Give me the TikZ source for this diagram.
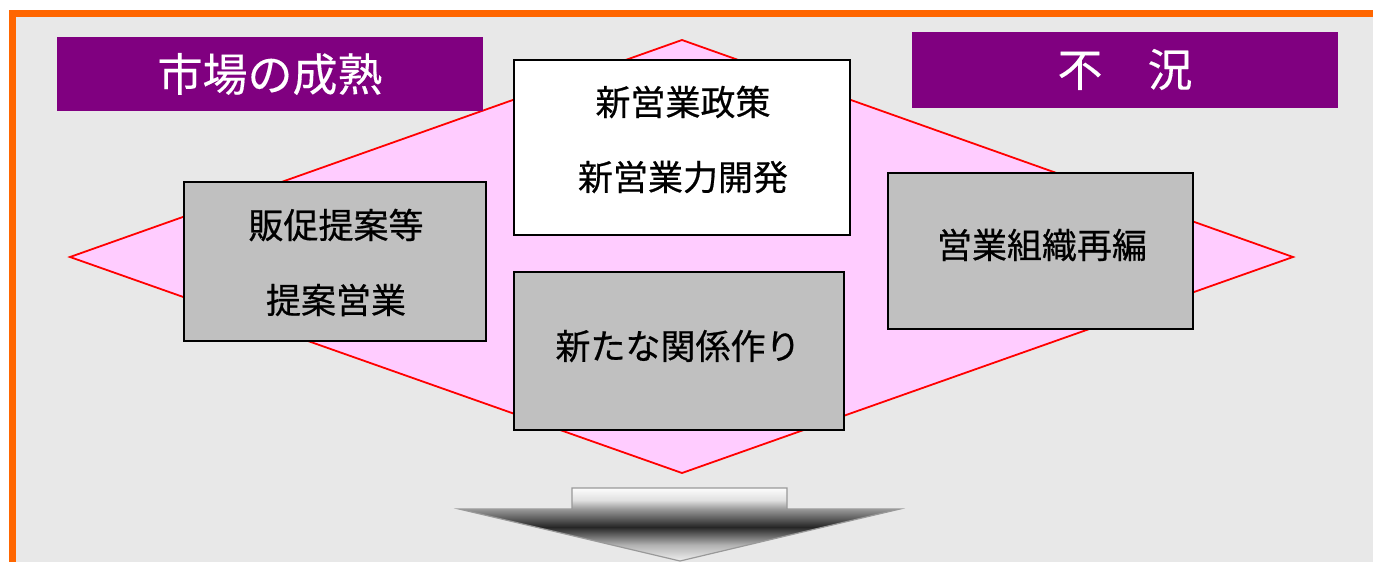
\documentclass[tikz,border=0pt]{standalone}
\usepackage{fontspec}
\newfontfamily\jp[FakeBold=0.6]{Noto Sans CJK JP}
\newfontfamily\jpw[FakeBold=0.3]{Noto Sans CJK JP}
\definecolor{bg}{HTML}{E8E8E8}
\definecolor{frame}{HTML}{FF6600}
\definecolor{plum}{HTML}{800080}
\definecolor{pinkfill}{HTML}{FFCCFF}
\definecolor{boxgray}{HTML}{C0C0C0}
\definecolor{arrowline}{HTML}{999999}
\tikzset{
  titlebox/.style={rectangle, fill=plum, draw=none, inner sep=0pt, text=white, font=\jpw\fontsize{45}{50}\selectfont},
  graybox/.style={rectangle, fill=boxgray, draw=black, line width=1.5pt, inner sep=0pt},
  whitebox/.style={rectangle, fill=white, draw=black, line width=1.5pt, inner sep=0pt},
  lbl/.style={inner sep=0pt, text=black, font=\jp\fontsize{35}{40}\selectfont},
}
\begin{document}
\begin{tikzpicture}[x=1pt,y=-1pt]
\useasboundingbox (0,0) rectangle (1373,562);
% background and frame
\fill[white] (0,0) rectangle (1373,562);
\fill[bg] (16,16.5) rectangle (1373,562);
\fill[frame] (9,10) rectangle (1373,16.5);
\fill[frame] (9,10) rectangle (16,562);
% diamond
\coordinate (dT) at (682,40);
\coordinate (dR) at (1293,257);
\coordinate (dB) at (682,473);
\coordinate (dL) at (70,257);
\filldraw[fill=pinkfill, draw=red, line width=1.8pt, line join=miter] (dT) -- (dR) -- (dB) -- (dL) -- cycle;
% title boxes
\node[titlebox, minimum width=426pt, minimum height=74pt] (market) at (270,74) {市場の成熟};
\node[titlebox, minimum width=426pt, minimum height=76pt] (slump) at (1125,69.5) {不　況};
% boxes
\node[whitebox, minimum width=336pt, minimum height=175pt] (policy) at (682,147.5) {};
\node[graybox, minimum width=302pt, minimum height=159pt] (promo) at (335,261.5) {};
\node[graybox, minimum width=330pt, minimum height=158pt] (relation) at (679,351) {};
\node[graybox, minimum width=305pt, minimum height=156pt] (reorg) at (1040.5,251) {};
% labels
\node[lbl] (p1) at (683,102) {新営業政策};
\node[lbl] (p2) at (683,177) {新営業力開発};
\node[lbl] (s1) at (336,225) {販促提案等};
\node[lbl] (s2) at (336,300) {提案営業};
\node[lbl] (r1) at (678,346) {新たな関係作り};
\node[lbl] (o1) at (1042,245) {営業組織再編};
% arrow
\coordinate (a1) at (572,509);
\coordinate (a2) at (572,488);
\coordinate (a3) at (787,488);
\coordinate (a4) at (787,509);
\coordinate (a5) at (900,509);
\coordinate (a6) at (680,561);
\coordinate (a7) at (459,509);
\begin{scope}
\clip (a1) -- (a2) -- (a3) -- (a4) -- (a5) -- (a6) -- (a7) -- cycle;
\shade[top color=white, bottom color=black!12] (450,487) rectangle (910,500);
\shade[top color=black!12, bottom color=black!40] (450,500) rectangle (910,509.01);
\shade[top color=black!40, bottom color=black!85] (450,509) rectangle (910,527.01);
\shade[top color=black!85, bottom color=black!30] (450,527) rectangle (910,545.01);
\shade[top color=black!30, bottom color=black!3] (450,545) rectangle (910,563);
\end{scope}
\draw[arrowline, line width=1.2pt, line join=miter] (a1) -- (a2) -- (a3) -- (a4) -- (a5) -- (a6) -- (a7) -- cycle;
\end{tikzpicture}
\end{document}
